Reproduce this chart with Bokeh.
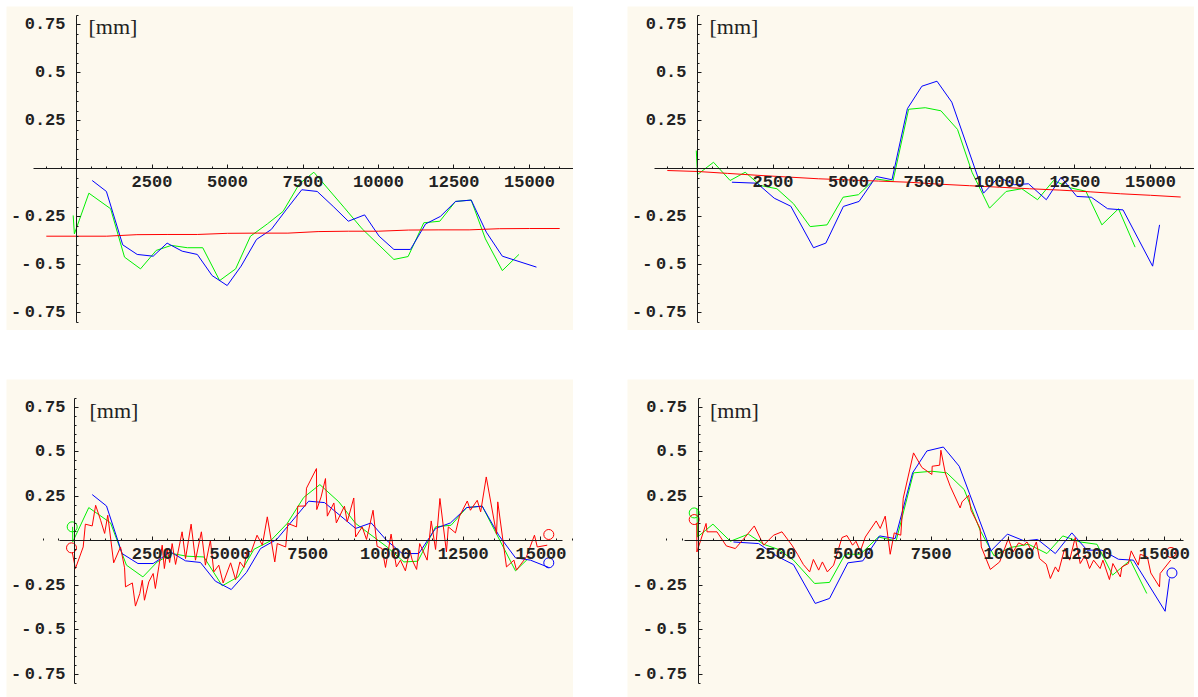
from bokeh.plotting import figure
from bokeh.layouts import row, column
from bokeh.models import FixedTicker, Label, Range1d
from bokeh.embed import file_html
from bokeh.resources import INLINE

BG = "#FDF9EE"
AXIS = "#1a1a1a"
RED, GREEN, BLUE = "#FF0000", "#00F000", "#0000FF"

# ---------------- panel 1 (top left) ----------------
p1_green_x = [-110, -70, 410, 1130, 1590, 2120, 2640, 3140, 3670, 4180, 4740, 5270, 5760, 6320, 6840,
              7380, 7860, 8870, 9460, 10510, 10980, 11500, 12030, 12550, 13070, 13540, 14100, 14650]
p1_green_y = [-0.243, -0.339, -0.127, -0.208, -0.460, -0.521, -0.425, -0.399, -0.411, -0.411, -0.582,
              -0.521, -0.351, -0.287, -0.222, -0.078, -0.018, -0.203, -0.313, -0.472, -0.457, -0.281,
              -0.273, -0.170, -0.163, -0.365, -0.530, -0.446]
p1_blue_x = [520, 990, 1530, 2010, 2540, 3000, 3500, 4000, 4490, 4990, 5450, 5960, 6450, 6940, 7460,
             7970, 8500, 9000, 9540, 10020, 10510, 11060, 11560, 12050, 12550, 13070, 13570, 14100, 15230]
p1_blue_y = [-0.061, -0.118, -0.396, -0.446, -0.455, -0.387, -0.429, -0.446, -0.556, -0.608, -0.507,
             -0.368, -0.316, -0.214, -0.109, -0.118, -0.196, -0.273, -0.240, -0.351, -0.420, -0.420,
             -0.287, -0.248, -0.170, -0.163, -0.330, -0.455, -0.512]
p1_red_x = [-1000, 0, 1000, 2000, 3000, 4000, 5000, 6000, 7000, 8000, 9000, 10000, 11000, 12000,
            13000, 14000, 15000, 16000]
p1_red_y = [-0.351, -0.351, -0.351, -0.343, -0.342, -0.342, -0.336, -0.335, -0.335, -0.327, -0.325,
            -0.325, -0.319, -0.318, -0.318, -0.312, -0.311, -0.311]

# ---------------- panel 2 (top right) ----------------
p2_green_x = [-40, 0, 530, 1080, 1580, 2080, 2630, 3180, 3730, 4290, 4820, 5330, 5880, 6470, 6990,
              7540, 8060, 8610, 9090, 9670, 10220, 10740, 11260, 11790, 12340, 12860, 13390, 13940, 14490]
p2_green_y = [0.095, -0.030, 0.034, -0.061, -0.018, -0.087, -0.104, -0.182, -0.301, -0.292, -0.148,
              -0.135, -0.052, -0.066, 0.310, 0.318, 0.302, 0.205, -0.018, -0.205, -0.118, -0.104,
              -0.161, -0.061, -0.099, -0.117, -0.292, -0.208, -0.408]
p2_blue_x = [1140, 1970, 2540, 3090, 3840, 4250, 4830, 5350, 5920, 6440, 6950, 7430, 7930, 8420, 9470,
             9970, 10500, 10960, 11550, 12040, 12560, 13040, 13580, 14090, 15070, 15300]
p2_blue_y = [-0.070, -0.075, -0.153, -0.195, -0.411, -0.387, -0.196, -0.170, -0.040, -0.057, 0.313,
             0.430, 0.456, 0.347, -0.127, -0.044, -0.083, -0.078, -0.161, -0.044, -0.144, -0.148,
             -0.208, -0.214, -0.507, -0.292]
p2_red_x = [-1000, 0, 1000, 2000, 3000, 4000, 5000, 6000, 7000, 8000, 9000, 10000, 11000, 12000,
            13000, 14000, 15000, 16000]
p2_red_y = [-0.009, -0.014, -0.024, -0.034, -0.043, -0.052, -0.058, -0.064, -0.070, -0.080, -0.088,
            -0.096, -0.104, -0.111, -0.120, -0.130, -0.138, -0.147]

# ---------------- panel 3 (bottom left) ----------------
p3_green_x = [-60, -55, 460, 1160, 1670, 2200, 2660, 3140, 3620, 4160, 4750, 5260, 5770, 6300, 6840,
              7370, 7890, 8500, 9040, 10050, 10590, 11040, 11610, 12110, 12610, 13110, 14180, 14560]
p3_green_y = [0.079, -0.005, 0.187, 0.101, -0.136, -0.202, -0.118, -0.071, -0.086, -0.090, -0.252,
              -0.202, -0.047, 0.000, 0.098, 0.244, 0.316, 0.219, 0.098, -0.034, -0.118, -0.114, 0.079,
              0.088, 0.187, 0.195, -0.168, -0.104]
p3_blue_x = [570, 1030, 1530, 2040, 2530, 3090, 3570, 4050, 4530, 5040, 5530, 5980, 6500, 7530, 8040,
             9040, 9540, 10030, 10540, 11070, 11610, 12090, 12610, 13110, 13640, 14180, 14660, 15250]
p3_blue_y = [0.260, 0.196, -0.071, -0.127, -0.127, -0.062, -0.112, -0.121, -0.226, -0.273, -0.177,
             -0.043, 0.008, 0.223, 0.215, 0.070, 0.101, 0.004, -0.071, -0.071, 0.070, 0.101, 0.187,
             0.195, 0.032, -0.095, -0.108, -0.149]
p3_red_x = [-70, 30, 280, 350, 570, 680, 840, 970, 1070, 1260,
            1480, 1610, 1640, 1860, 1960, 2100, 2180, 2250, 2390, 2530,
            2600, 2710, 2820, 2890, 2980, 3060, 3140, 3250, 3460, 3570,
            3750, 3890, 4080, 4210, 4370, 4480, 4640, 4780, 5020, 5180,
            5320, 5450, 5550, 5680, 5870, 6040, 6200, 6440, 6520, 6790,
            6860, 7140, 7180, 7430, 7460, 7780, 7790, 7930, 8070, 8130,
            8340, 8420, 8680, 8770, 8980, 9040, 9250, 9390, 9600, 9730,
            9890, 10000, 10180, 10350, 10480, 10640, 10780, 10860, 11000, 11100,
            11340, 11470, 11610, 11750, 11960, 12020, 12250, 12380, 12630, 12730,
            12950, 13060, 13240, 13570, 13610, 13890, 14130, 14210, 14530, 14790,
            14880, 15200]
p3_red_y = [-0.065, -0.155, -0.034, 0.094, 0.084, 0.200, 0.116, 0.042, 0.144, -0.123,
            -0.034, -0.151, -0.258, -0.236, -0.366, -0.295, -0.221, -0.333, -0.230, -0.183,
            -0.267, -0.146, -0.024, -0.155, -0.043, -0.121, -0.015, -0.132, 0.051, -0.099,
            0.094, -0.108, 0.051, -0.136, 0.004, -0.174, -0.136, -0.236, -0.123, -0.217,
            -0.118, -0.149, -0.056, -0.062, 0.032, -0.024, 0.135, -0.118, -0.015, -0.034,
            0.098, 0.079, 0.195, 0.196, 0.296, 0.406, 0.176, 0.247, 0.350, 0.139,
            0.213, 0.101, 0.195, 0.107, 0.241, 0.022, 0.079, 0.008, 0.172, -0.030,
            -0.043, -0.149, 0.038, -0.146, -0.108, -0.168, -0.052, -0.108, -0.160, -0.015,
            -0.108, 0.112, -0.048, 0.238, -0.062, 0.079, 0.045, 0.139, 0.224, 0.172,
            0.228, 0.163, 0.359, 0.038, 0.219, -0.146, -0.108, -0.164, -0.090, 0.032,
            -0.034, -0.024]
p3_ring_x = [-74, -96, 15250, 15250]
p3_ring_y = [0.079, -0.039, -0.123, 0.036]
p3_ring_color = [GREEN, RED, BLUE, RED]

# ---------------- panel 4 (bottom right) ----------------
p4_green_x = [-35, -15, 480, 1040, 1620, 2110, 2590, 3070, 3750, 4230, 4730, 5220, 5800, 6370, 6930,
              7520, 8000, 8560, 9070, 9520, 10040, 10630, 11220, 11730, 12290, 12830, 13330, 13900, 14430]
p4_green_y = [0.182, 0.022, 0.094, -0.002, 0.038, -0.019, -0.048, -0.108, -0.239, -0.233, -0.075,
              -0.075, 0.022, 0.000, 0.382, 0.391, 0.382, 0.288, 0.060, -0.084, -0.037, -0.019, -0.071,
              0.028, -0.006, -0.019, -0.192, -0.108, -0.295]
p4_blue_x = [1140, 1950, 2540, 3070, 3770, 4230, 4820, 5300, 5840, 6340, 6900, 7360, 7890, 8400, 9420,
             9950, 10490, 10920, 11490, 12020, 12510, 12990, 13520, 14000, 15020, 15160]
p4_blue_y = [-0.006, -0.015, -0.086, -0.133, -0.351, -0.323, -0.123, -0.112, 0.028, 0.013, 0.382,
             0.505, 0.527, 0.419, -0.056, 0.038, 0.000, 0.008, -0.071, 0.045, -0.052, -0.052, -0.103,
             -0.108, -0.395, -0.211]
p4_red_x = [-40, -35, 260, 290, 610, 910, 1200, 1520, 1810, 2110,
            2430, 2700, 3020, 3200, 3390, 3590, 3710, 3880, 4000, 4160,
            4360, 4630, 4790, 4970, 5080, 5220, 5380, 5730, 5860, 6020,
            6180, 6310, 6520, 6600, 6930, 7200, 7520, 7530, 7770, 7810,
            7950, 8110, 8430, 8490, 8700, 8780, 9070, 9110, 9400, 9700,
            9980, 10130, 10310, 10470, 10580, 10740, 10880, 10980, 11200, 11330,
            11490, 11590, 11790, 11950, 12130, 12290, 12450, 12590, 12720, 12930,
            13020, 13230, 13340, 13580, 13630, 13840, 13930, 14160, 14220, 14450,
            14560, 14840, 14860, 15200]
p4_red_y = [0.100, -0.062, 0.098, 0.051, 0.051, -0.028, -0.043, 0.022, 0.084, -0.024,
            0.032, 0.051, -0.024, -0.075, -0.133, -0.174, -0.104, -0.164, -0.118, -0.174,
            -0.136, 0.019, 0.030, -0.024, -0.002, -0.058, 0.022, 0.112, 0.070, 0.139,
            -0.075, 0.045, 0.032, 0.240, 0.494, 0.412, 0.373, 0.419, 0.425, 0.509,
            0.382, 0.307, 0.185, 0.219, 0.256, 0.172, 0.070, -0.034, -0.160, -0.118,
            0.013, -0.062, -0.011, -0.024, -0.006, -0.062, -0.006, -0.099, -0.131, -0.211,
            -0.146, -0.174, -0.043, -0.108, 0.019, -0.127, -0.080, -0.155, -0.108, -0.155,
            -0.108, -0.217, -0.127, -0.202, -0.146, -0.127, -0.056, -0.136, -0.075, -0.090,
            -0.180, -0.258, -0.183, -0.108]
p4_ring_x = [-122, -122, 15240, 15210]
p4_ring_y = [0.157, 0.120, -0.180, -0.065]
p4_ring_color = [GREEN, RED, BLUE, RED]

# ---------------- shared axis ticks ----------------
x_major = [2500, 5000, 7500, 10000, 12500, 15000]
x_minor = [v for v in range(-1000, 16001, 500) if v not in x_major and v != 0]
y_major = [-0.75, -0.5, -0.25, 0.25, 0.5, 0.75]
# negative labels use a thin space after the sign
y_labels = ["-\u20090.75", "-\u20090.5", "-\u20090.25", "0.25", "0.5", "0.75"]
y_minor = [round(k * 0.05, 2) for k in range(-16, 17) if round(k * 0.05, 2) not in y_major]

TICK_FONT = "Liberation Mono"
PAD = 6   # white strip left of each panel, lets long tick labels overhang the panel


def make_panel(height, xr, yr, xbounds, y_standoff, unit_y, unit_dx):
    p = figure(width=567 + PAD, height=height, x_range=Range1d(*xr), y_range=Range1d(*yr),
               output_backend="svg", toolbar_location=None, min_border=0, min_border_left=PAD,
               background_fill_color=BG, border_fill_color="white", outline_line_color=None)
    p.grid.visible = False

    xa = p.xaxis[0]
    xa.fixed_location = 0
    xa.bounds = xbounds
    xa.ticker = FixedTicker(ticks=x_major, minor_ticks=x_minor)
    xa.major_label_overrides = {v: str(v) for v in x_major}
    xa.major_tick_in, xa.major_tick_out = 4, 0
    xa.minor_tick_in, xa.minor_tick_out = 2, 0
    xa.major_label_standoff = 7

    ya = p.yaxis[0]
    ya.fixed_location = 0
    ya.bounds = (-0.8, 0.8)
    ya.ticker = FixedTicker(ticks=y_major, minor_ticks=y_minor)
    ya.major_label_overrides = dict(zip(y_major, y_labels))
    ya.major_tick_in, ya.major_tick_out = 4, 0
    ya.minor_tick_in, ya.minor_tick_out = 2, 0
    ya.major_label_standoff = y_standoff

    for ax in (xa, ya):
        ax.axis_line_color = AXIS
        ax.major_tick_line_color = AXIS
        ax.minor_tick_line_color = AXIS
        ax.major_label_text_font = TICK_FONT
        ax.major_label_text_font_style = "bold"
        ax.major_label_text_font_size = "17px"
        ax.major_label_text_color = "#222222"

    p.add_layout(Label(x=0, y=unit_y, x_offset=unit_dx, y_offset=6, text="[mm]",
                       text_font="Liberation Serif", text_font_size="22px",
                       text_color="#222222", text_baseline="alphabetic"))
    return p


top_x = (-2318, 16457)
top_y = (-0.842, 0.845)

p1 = make_panel(324, top_x, top_y, (-1420, 16450), 11, 0.711, 12)
p1.line(p1_green_x, p1_green_y, line_color=GREEN, line_width=1)
p1.line(p1_blue_x, p1_blue_y, line_color=BLUE, line_width=1)
p1.line(p1_red_x, p1_red_y, line_color=RED, line_width=1)

p2 = make_panel(324, top_x, top_y, (-1420, 16450), 11, 0.711, 12)
p2.line(p2_green_x, p2_green_y, line_color=GREEN, line_width=1)
p2.line(p2_blue_x, p2_blue_y, line_color=BLUE, line_width=1)
p2.line(p2_red_x, p2_red_y, line_color=RED, line_width=1)

bot_y = (-0.879, 0.906)

p3 = make_panel(318, (-2186, 16045), bot_y, (-470, 15690), 9, 0.70, 15)
p3.line(p3_green_x, p3_green_y, line_color=GREEN, line_width=1)
p3.line(p3_blue_x, p3_blue_y, line_color=BLUE, line_width=1)
p3.line(p3_red_x, p3_red_y, line_color=RED, line_width=1)
p3.scatter(p3_ring_x, p3_ring_y, marker="circle", size=10, fill_color=None,
           line_color=p3_ring_color, line_width=1)

p4 = make_panel(318, (-2267, 15965), bot_y, (-450, 15600), 11, 0.70, 12)
p4.line(p4_green_x, p4_green_y, line_color=GREEN, line_width=1)
p4.line(p4_blue_x, p4_blue_y, line_color=BLUE, line_width=1)
p4.line(p4_red_x, p4_red_y, line_color=RED, line_width=1)
p4.scatter(p4_ring_x, p4_ring_y, marker="circle", size=10, fill_color=None,
           line_color=p4_ring_color, line_width=1)

layout = column(row(p1, p2, spacing=54 - PAD), row(p3, p4, spacing=54 - PAD),
                spacing=49, margin=(6, 0, 0, 0))

with open("out.html", "w") as f:
    f.write(file_html(layout, INLINE))
